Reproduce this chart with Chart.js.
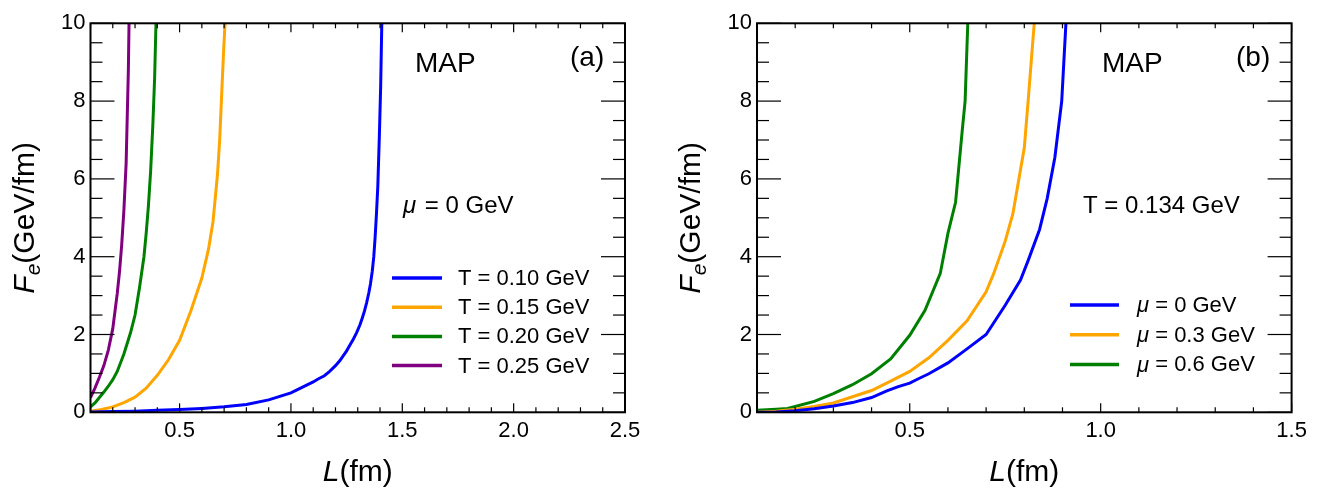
<!DOCTYPE html>
<html><head><meta charset="utf-8">
<script src="https://cdn.jsdelivr.net/npm/chart.js@4/dist/chart.umd.min.js"></script>
<style>
html,body{margin:0;padding:0;background:#fff;}
#wrap{position:relative;width:1318px;height:488px;background:#fff;}
.panel{position:absolute;top:0;width:659px;height:488px;}
</style></head><body>
<div id="wrap">
<div class="panel" style="left:0"><canvas id="ca" width="659" height="488"></canvas></div>
<div class="panel" style="left:659px"><canvas id="cb" width="659" height="488"></canvas></div>
</div>
<script>
const FONT = '"Liberation Sans", Arial, Helvetica, sans-serif';

// ---------- Panel (a): mu = 0 GeV ----------
const aSeriesNames = ['T = 0.10 GeV', 'T = 0.15 GeV', 'T = 0.20 GeV', 'T = 0.25 GeV'];
const aColors = ['#0000ff', '#ffa500', '#008000', '#800080'];
const aL_T010 = [0.1,0.2,0.3,0.4,0.5,0.6,0.7,0.8,0.9,1.0,1.05,1.1,1.12,1.15,1.17,1.2,1.22,1.25,1.265,1.28,1.295,1.31,1.32,1.33,1.34,1.35,1.357,1.365,1.372,1.378,1.384,1.39,1.397,1.403,1.408];
const aF_T010 = [0.01,0.02,0.03,0.05,0.07,0.1,0.14,0.2,0.32,0.5,0.64,0.78,0.85,0.94,1.03,1.2,1.33,1.58,1.73,1.88,2.05,2.25,2.42,2.6,2.82,3.08,3.3,3.62,4.0,4.5,5.1,5.8,7.1,8.4,10];
const aL_T015 = [0.1,0.15,0.2,0.25,0.3,0.35,0.4,0.45,0.5,0.55,0.6,0.63,0.65,0.67,0.68,0.69,0.697,0.704];
const aF_T015 = [0.03,0.07,0.14,0.25,0.39,0.62,0.95,1.35,1.85,2.6,3.45,4.2,4.9,6.1,7.0,8.3,9.2,10];
const aL_T020 = [0.1,0.12,0.14,0.16,0.18,0.2,0.22,0.25,0.28,0.3,0.32,0.34,0.35,0.36,0.37,0.38,0.388,0.394];
const aF_T020 = [0.14,0.24,0.38,0.52,0.67,0.84,1.05,1.5,2.05,2.5,3.2,4.0,4.6,5.3,6.2,7.4,8.6,10];
const aL_T025 = [0.1,0.12,0.14,0.16,0.18,0.2,0.22,0.23,0.24,0.25,0.26,0.265,0.27,0.273];
const aF_T025 = [0.38,0.62,0.9,1.2,1.6,2.15,3.05,3.6,4.3,5.2,6.4,7.6,8.8,10];
const aXTicks = [0.5, 1.0, 1.5, 2.0, 2.5];

// ---------- Panel (b): T = 0.134 GeV ----------
const bSeriesNames = ['\u03bc = 0 GeV', '\u03bc = 0.3 GeV', '\u03bc = 0.6 GeV'];
const bColors = ['#0000ff', '#ffa500', '#008000'];
const bL_mu00 = [0.1,0.15,0.2,0.25,0.3,0.35,0.4,0.44,0.47,0.5,0.52,0.55,0.6,0.65,0.7,0.75,0.79,0.81,0.84,0.86,0.88,0.898,0.909];
const bF_mu00 = [0.0,0.01,0.04,0.09,0.16,0.25,0.38,0.55,0.66,0.75,0.85,0.99,1.27,1.63,2.0,2.75,3.4,3.9,4.7,5.5,6.55,8.0,10];
const bL_mu03 = [0.1,0.15,0.2,0.25,0.3,0.35,0.4,0.45,0.5,0.55,0.6,0.65,0.7,0.72,0.75,0.77,0.8,0.81,0.826];
const bF_mu03 = [0.0,0.03,0.08,0.15,0.24,0.4,0.56,0.8,1.05,1.4,1.85,2.35,3.1,3.57,4.4,5.1,6.8,8.0,10];
const bL_mu06 = [0.1,0.15,0.18,0.2,0.25,0.3,0.35,0.4,0.45,0.5,0.54,0.58,0.6,0.62,0.638,0.645,0.652];
const bF_mu06 = [0.05,0.08,0.1,0.15,0.28,0.48,0.71,0.99,1.37,1.98,2.62,3.57,4.6,5.4,7.3,8.0,10];
const bXTicks = [0.5, 1.0, 1.5];

const yTicks = [0, 2, 4, 6, 8, 10];

function pts(xs, ys) { return xs.map((x, i) => ({x: x, y: ys[i]})); }

function drawLine(ctx, x0, y0, x1, y1) { ctx.beginPath(); ctx.moveTo(x0, y0); ctx.lineTo(x1, y1); ctx.stroke(); }

function drawRich(ctx, parts, x, y) {
  let cx = x;
  for (const p of parts) {
    ctx.font = p.font;
    ctx.fillText(p.t, cx, y + (p.dy || 0));
    cx += ctx.measureText(p.t).width + (p.gap || 0);
  }
  return cx - x;
}
function richWidth(ctx, parts) {
  let w = 0;
  for (const p of parts) { ctx.font = p.font; w += ctx.measureText(p.t).width + (p.gap || 0); }
  return w;
}

function makePanel(canvasId, cfg) {
  const datasets = cfg.series.map((s, i) => ({
    label: cfg.names[i], data: pts(s[0], s[1]),
    borderColor: cfg.colors[i], backgroundColor: cfg.colors[i],
    borderWidth: 3, pointRadius: 0, tension: 0, fill: false
  }));

  const decor = {
    id: 'decor',
    afterDraw(chart) {
      const ctx = chart.ctx, ca = chart.chartArea, xs = chart.scales.x, ys = chart.scales.y;
      ctx.save();
      ctx.strokeStyle = '#000';
      ctx.lineWidth = 1.2;
      const nx0 = Math.round(cfg.xMin / 0.1), nx1 = Math.round(cfg.xMax / 0.1);
      for (let i = nx0; i <= nx1; i++) {
        const px = xs.getPixelForValue(i / 10);
        const len = (i % 5 === 0) ? 9 : 5;
        drawLine(ctx, px, ca.bottom, px, ca.bottom - len);
        drawLine(ctx, px, ca.top, px, ca.top + len);
      }
      for (let i = 0; i <= 20; i++) {
        const py = ys.getPixelForValue(i * 0.5);
        const len = (i % 4 === 0) ? 24 : 12;
        drawLine(ctx, ca.left, py, ca.left + len, py);
        drawLine(ctx, ca.right, py, ca.right - len, py);
      }
      ctx.lineWidth = 2;
      ctx.strokeRect(ca.left, ca.top, ca.right - ca.left, ca.bottom - ca.top);

      ctx.fillStyle = '#000';
      ctx.textBaseline = 'alphabetic';
      ctx.textAlign = 'left';
      const xt = [{t: 'L', font: 'italic 30px ' + FONT}, {t: '(fm)', font: '30px ' + FONT}];
      const xw = richWidth(ctx, xt);
      drawRich(ctx, xt, (ca.left + ca.right) / 2 - xw / 2, 481);
      const yt = [{t: 'F', font: 'italic 30px ' + FONT}, {t: 'e', font: 'italic 21px ' + FONT, dy: 6},
                  {t: '(GeV/fm)', font: '30px ' + FONT}];
      const yw = richWidth(ctx, yt);
      ctx.save();
      ctx.translate(ca.left - 57, (ca.top + ca.bottom) / 2 + yw / 2);
      ctx.rotate(-Math.PI / 2);
      drawRich(ctx, yt, 0, 0);
      ctx.restore();

      ctx.font = '28px ' + FONT;
      ctx.fillText('MAP', cfg.mapX, 72);
      ctx.fillText(cfg.tag, cfg.tagX, 66);
      drawRich(ctx, cfg.cond, cfg.condX, 213);

      ctx.textBaseline = 'middle';
      cfg.names.forEach((n, i) => {
        const y = cfg.legY0 + i * cfg.legDY;
        ctx.strokeStyle = cfg.colors[i];
        ctx.lineWidth = 3.5;
        drawLine(ctx, cfg.legX0, y, cfg.legX1, y);
        if (n.charAt(0) === '\u03bc') {
          drawRich(ctx, [{t: '\u03bc', font: 'italic 22px ' + FONT}, {t: n.slice(1), font: '22px ' + FONT}], cfg.legTX, y + 1);
        } else {
          ctx.font = '22px ' + FONT;
          ctx.fillText(n, cfg.legTX, y + 1);
        }
      });
      ctx.restore();
    }
  };

  return new Chart(document.getElementById(canvasId), {
    type: 'line',
    data: {datasets: datasets},
    plugins: [decor],
    options: {
      responsive: false, animation: false, devicePixelRatio: 1,
      layout: {padding: {left: 0, right: cfg.padRight, top: 23.3, bottom: 0}},
      plugins: {legend: {display: false}, tooltip: {enabled: false}},
      scales: {
        x: {
          type: 'linear', min: cfg.xMin, max: cfg.xMax,
          grid: {display: false, drawTicks: false}, border: {display: false},
          afterBuildTicks: (s) => { s.ticks = cfg.xTicks.map(v => ({value: v})); },
          afterFit: (s) => { s.height = 488 - 412.3; },
          ticks: {padding: 5, color: '#000', font: {family: FONT, size: 22}, maxRotation: 0,
                  callback: (v) => Number(v).toFixed(1)}
        },
        y: {
          type: 'linear', min: 0, max: 10,
          grid: {display: false, drawTicks: false}, border: {display: false},
          afterBuildTicks: (s) => { s.ticks = yTicks.map(v => ({value: v})); },
          afterFit: (s) => { s.width = cfg.yW; },
          ticks: {padding: 5, color: '#000', font: {family: FONT, size: 22},
                  callback: (v) => String(v)}
        }
      }
    }
  });
}

makePanel('ca', {
  names: aSeriesNames, colors: aColors,
  series: [[aL_T010, aF_T010], [aL_T015, aF_T015], [aL_T020, aF_T020], [aL_T025, aF_T025]],
  xMin: 0.1, xMax: 2.5, xTicks: aXTicks, yW: 90.5, padRight: 34,
  mapX: 415, tag: '(a)', tagX: 570,
  cond: [{t: '\u03bc', font: 'italic 24px ' + FONT, gap: 2}, {t: ' = 0 GeV', font: '24px ' + FONT}], condX: 403,
  legY0: 278, legDY: 29.2, legX0: 392, legX1: 442, legTX: 458
});
makePanel('cb', {
  names: bSeriesNames, colors: bColors,
  series: [[bL_mu00, bF_mu00], [bL_mu03, bF_mu03], [bL_mu06, bF_mu06]],
  xMin: 0.1, xMax: 1.5, xTicks: bXTicks, yW: 98, padRight: 26.4,
  mapX: 443, tag: '(b)', tagX: 577,
  cond: [{t: 'T = 0.134 GeV', font: '24px ' + FONT}], condX: 424,
  legY0: 305, legDY: 29.7, legX0: 411, legX1: 460, legTX: 478
});
</script>
</body></html>
